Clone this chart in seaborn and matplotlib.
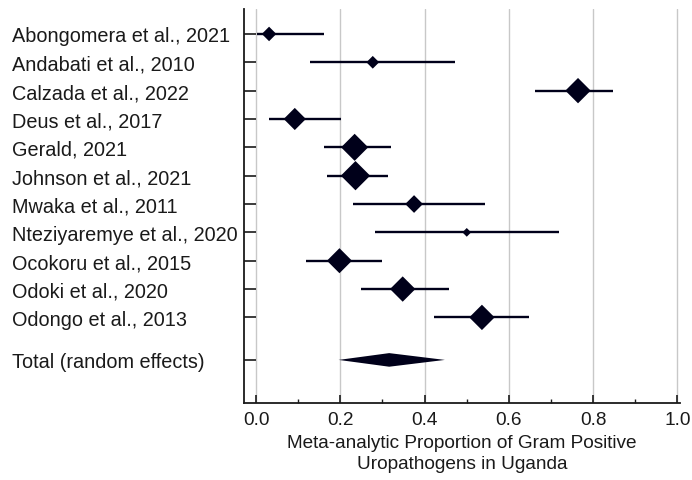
import numpy as np
import pandas as pd
import matplotlib
matplotlib.use("Agg")
import matplotlib.pyplot as plt
import seaborn as sns
from matplotlib.path import Path
from matplotlib.markers import MarkerStyle

studies = ["Abongomera et al., 2021", "Andabati et al., 2010", "Calzada et al., 2022",
           "Deus et al., 2017", "Gerald, 2021", "Johnson et al., 2021", "Mwaka et al., 2011",
           "Nteziyaremye et al., 2020", "Ocokoru et al., 2015", "Odoki et al., 2020",
           "Odongo et al., 2013"]
proportion = [0.031, 0.277, 0.764, 0.092, 0.234, 0.236, 0.375, 0.500, 0.198, 0.348, 0.536]
ci_low = [0.002, 0.127, 0.663, 0.032, 0.161, 0.169, 0.229, 0.283, 0.118, 0.249, 0.423]
ci_high = [0.161, 0.473, 0.847, 0.202, 0.320, 0.314, 0.543, 0.718, 0.300, 0.459, 0.648]
weights = [3.9, 3.0, 11.9, 9.1, 13.6, 15.9, 5.8, 1.4, 11.6, 11.9, 11.9]

total_label = "Total (random effects)"
total_est = 0.316
total_low = 0.196
total_high = 0.448

x_ticks = [0.0, 0.2, 0.4, 0.6, 0.8, 1.0]
x_label = "Meta-analytic Proportion of Gram Positive\nUropathogens in Uganda"

sns.set_theme(style="white")
plt.rcParams["font.family"] = ["Liberation Sans", "DejaVu Sans"]

color = "#00001a"
df = pd.DataFrame({"study": studies, "p": proportion, "lo": ci_low, "hi": ci_high,
                   "w": weights, "row": np.arange(len(studies))})
total_row = len(studies) + 0.5

fig = plt.figure(figsize=(6.92, 4.81), dpi=100)
ax = fig.add_axes([244 / 692, 77 / 481, 435.6 / 692, 394 / 481])

ax.grid(axis="x", color="#c8c8c8", linewidth=1.0, zorder=0)
ax.set_axisbelow(True)

ax.hlines(df["row"], df["lo"], df["hi"], color=color, linewidth=1.7, zorder=2)

diamond = MarkerStyle(Path([(0, 1), (1, 0), (0, -1), (-1, 0), (0, 1)], closed=True))
sns.scatterplot(data=df, x="p", y="row", size="w", sizes=(1.4 * 28, 15.9 * 28),
                size_norm=(1.4, 15.9), marker=diamond, color=color, linewidth=0,
                legend=False, ax=ax, zorder=3)

h = 0.24
ax.fill([total_low, total_est, total_high, total_est],
        [total_row, total_row - h, total_row, total_row + h],
        color=color, linewidth=0, zorder=3)

ax.set_xlim(-0.0285, 1.005)
ax.set_ylim(13.02, -0.88)
ax.set_xticks(x_ticks)
ax.set_xticklabels([f"{t:.1f}" for t in x_ticks])
ax.set_xticks(np.arange(0.1, 1.0, 0.2), minor=True)
ax.set_yticks(list(df["row"]) + [total_row])
ax.set_yticklabels(studies + [total_label], ha="left")
ax.set_xlabel(x_label, fontsize=13.7, color="#1a1a1a", linespacing=1.3, labelpad=4)
ax.set_ylabel("")

ax.tick_params(axis="y", direction="in", length=8.6, width=1.2, color="#1a1a1a",
               pad=167, labelsize=14.3, labelcolor="#1a1a1a", left=True)
ax.tick_params(axis="x", which="major", direction="in", length=6, width=1.2,
               color="#1a1a1a", labelsize=13.7, labelcolor="#1a1a1a", bottom=True, pad=6)
ax.tick_params(axis="x", which="minor", direction="in", length=3, width=1.0,
               color="#1a1a1a", bottom=True)

for s in ["top", "right"]:
    ax.spines[s].set_visible(False)
for s in ["left", "bottom"]:
    ax.spines[s].set_color("#1a1a1a")
    ax.spines[s].set_linewidth(1.3)

fig.savefig("out.png", dpi=100)
